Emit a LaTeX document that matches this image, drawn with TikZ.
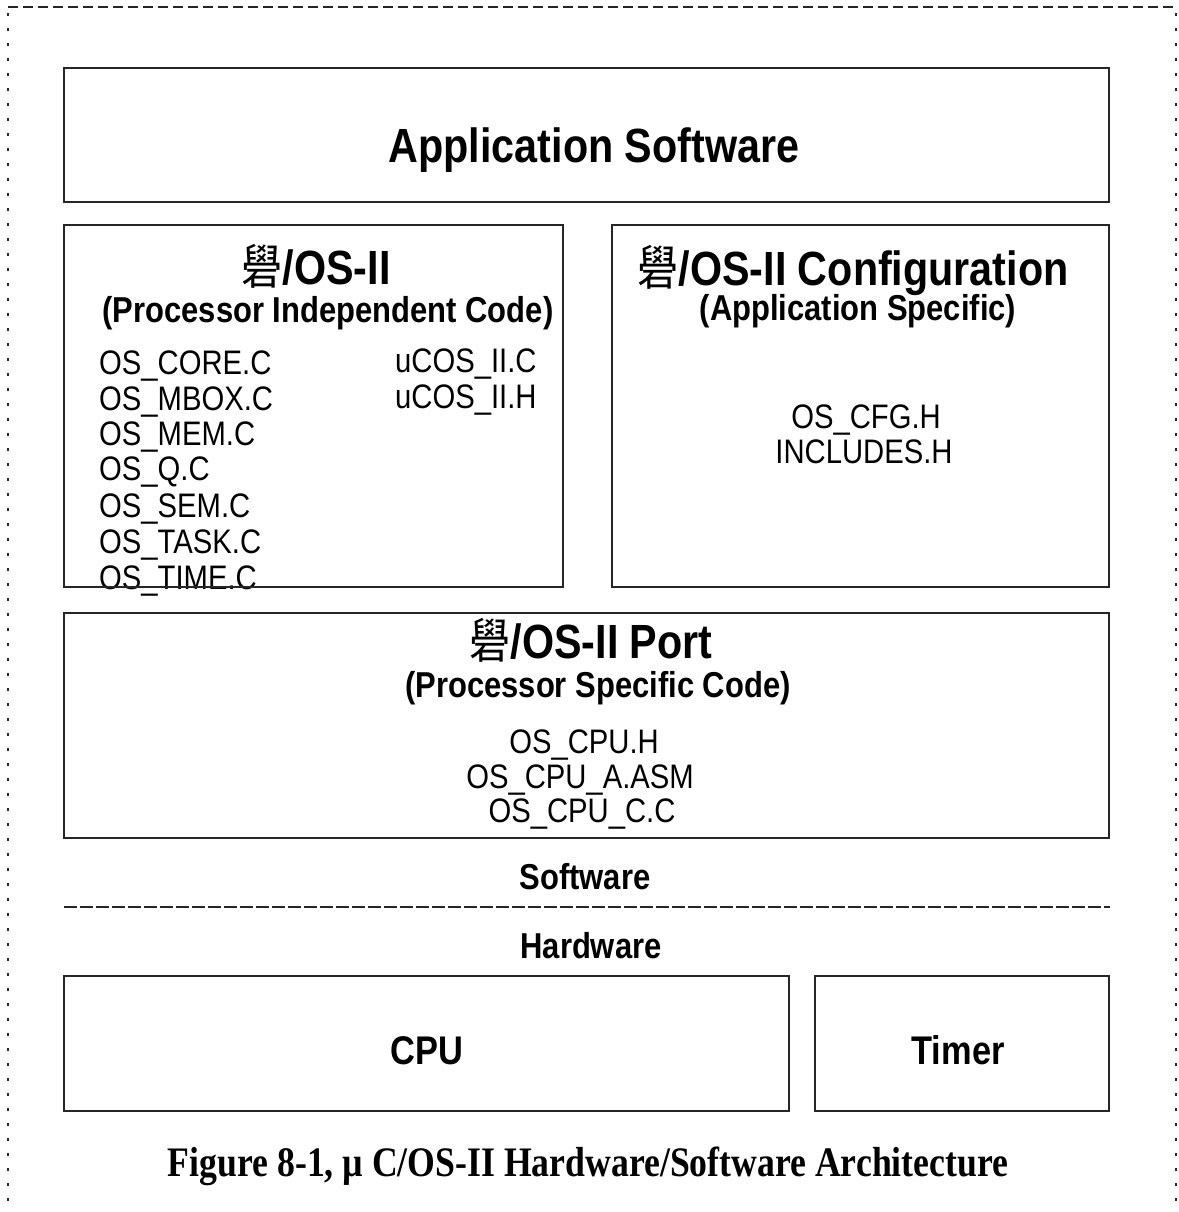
\documentclass[tikz,border=0pt]{standalone}
\usepackage{fontspec}
\setmainfont{Liberation Sans}[FakeStretch=0.86]
\newfontfamily\timesn{Liberation Serif}[FakeStretch=0.85]
\newfontfamily\cjk{Noto Sans CJK SC}[FakeStretch=0.86]
\newcommand{\uch}{{\cjk\mdseries 礐}}
\begin{document}
\begin{tikzpicture}[x=1pt,y=-1pt,
  box/.style={draw=black!85, line width=1.8pt, inner sep=0pt},
  big/.style={font=\fontsize{48}{52}\selectfont\bfseries, inner sep=0pt, anchor=base},
  mid/.style={font=\fontsize{36}{40}\selectfont\bfseries, inner sep=0pt, anchor=base},
  hw/.style={font=\fontsize{40}{44}\selectfont\bfseries, inner sep=0pt, anchor=base},
  file/.style={font=\fontsize{34}{36}\selectfont, inner sep=0pt, anchor=base west},
  cfile/.style={font=\fontsize{34}{36}\selectfont, inner sep=0pt, anchor=base},
  border/.style={line width=1.6pt, black!85}]
\useasboundingbox (0,0) rectangle (1178,1212);
\fill[white] (0,0) rectangle (1178,1212);
% outer dotted frame
\coordinate (tl) at (8,7);
\coordinate (tr) at (1176,7);
\coordinate (bl) at (8,1212);
\coordinate (br) at (1176,1212);
\draw[border, dash pattern=on 10pt off 5pt] (tl) -- (tr);
\draw[border, dash pattern=on 3pt off 12pt, dash phase=-6pt] (tl) -- (bl);
\draw[border, dash pattern=on 3pt off 12pt, dash phase=-6pt] (tr) -- (br);

% texts
\node[big] (tapp) at (594,162) {Application Software};

\node[big] (tind) at (316,284) {\uch/OS-II};
\node[mid] (tind2) at (328,322) {(Processor Independent Code)};
\node[file] (f1) at (99,374) {OS\_CORE.C};
\node[file] (f2) at (99,410) {OS\_MBOX.C};
\node[file] (f3) at (99,445) {OS\_MEM.C};
\node[file] (f4) at (99,480) {OS\_Q.C};
\node[file] (f5) at (99,517) {OS\_SEM.C};
\node[file] (f6) at (99,553) {OS\_TASK.C};
\node[file] (f7) at (99,589) {OS\_TIME.C};
\node[file] (f8) at (395,372) {uCOS\_II.C};
\node[file] (f9) at (395,408) {uCOS\_II.H};

\node[big] (tcfg) at (853,285) {\uch/OS-II Configuration};
\node[mid] (tcfg2) at (858,320) {(Application Specific)};
\node[cfile] (c1) at (866,428) {OS\_CFG.H};
\node[cfile] (c2) at (864,463) {INCLUDES.H};

\node[big] (tport) at (591,658) {\uch/OS-II Port};
\node[mid] (tport2) at (598,697) {(Processor Specific Code)};
\node[cfile] (p1) at (584,753) {OS\_CPU.H};
\node[cfile] (p2) at (580,788) {OS\_CPU\_A.ASM};
\node[cfile] (p3) at (582,822) {OS\_CPU\_C.C};

\node[mid] (tsw) at (585,889) {Software};
\node[mid] (thw) at (591,958) {Hardware};
\coordinate (dl) at (64,907);
\coordinate (dr) at (1110,907);
\draw[border, dash pattern=on 13pt off 3pt] (dl) -- (dr);

\node[hw] (tcpu) at (427,1064) {CPU};
\node[hw] (ttim) at (958,1064) {Timer};

\node[font=\fontsize{42}{46}\selectfont\timesn\bfseries, inner sep=0pt, anchor=base] (cap) at (588,1176)
  {Figure 8-1, µ C/OS-II Hardware/Software Architecture};

% boxes
\node[box, minimum width=1045pt, minimum height=134pt] (app) at (586.5,135) {};
\node[box, minimum width=499pt, minimum height=362pt] (ind) at (313.5,406) {};
\node[box, minimum width=497pt, minimum height=362pt] (cfg) at (860.5,406) {};
\node[box, minimum width=1045pt, minimum height=225pt] (port) at (586.5,725.5) {};
\node[box, minimum width=725pt, minimum height=135pt] (cpu) at (426.5,1043.5) {};
\node[box, minimum width=294pt, minimum height=135pt] (tim) at (962,1043.5) {};
\end{tikzpicture}
\end{document}
